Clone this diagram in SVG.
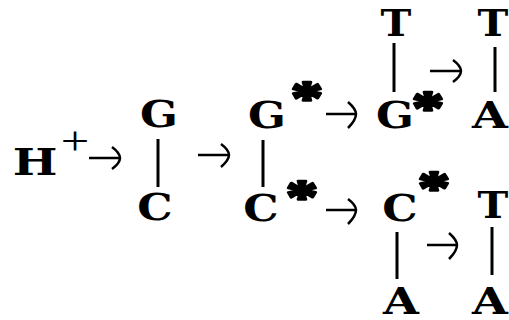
<svg xmlns="http://www.w3.org/2000/svg" width="509" height="320" viewBox="0 0 509 320">
<style>
.b{font-family:"DejaVu Serif","Liberation Serif",serif;font-weight:bold;font-size:37px;fill:#000;text-anchor:middle}
.s{font-family:"Liberation Serif",serif;font-weight:bold;font-size:48px;fill:#000;stroke:#000;stroke-width:2.5;stroke-linejoin:round;text-anchor:middle}
.p{font-family:"Liberation Serif",serif;font-size:44px;fill:#000;text-anchor:middle}
.bond{stroke:#000;stroke-width:3;fill:none}
.arr{stroke:#000;stroke-width:2.5;fill:none}
</style>
<rect width="509" height="320" fill="#fff"/>
<g id="connectors">
<line class="bond" x1="158" y1="139" x2="158" y2="187"/>
<line class="bond" x1="263" y1="140" x2="263" y2="187"/>
<line class="bond" x1="394" y1="43" x2="394" y2="92"/>
<line class="bond" x1="495" y1="47" x2="495" y2="92"/>
<line class="bond" x1="397" y1="232" x2="397" y2="279"/>
<line class="bond" x1="492" y1="227" x2="492" y2="275"/>
<path class="arr" d="M89 158H119M112 147Q120 153 120 158Q120 163 112 169"/>
<path class="arr" d="M198 155H228M221 144Q229 150 229 155Q229 160 221 167"/>
<path class="arr" d="M326 114H355M348 102Q356 109 356 114Q356 120 348 128"/>
<path class="arr" d="M430 71H460M453 60Q461 66 461 71Q461 76 453 82"/>
<path class="arr" d="M326 210H355M348 199Q356 205 356 210Q356 216 348 224"/>
<path class="arr" d="M427 245H456M449 233Q457 240 457 245Q457 251 449 259"/>
</g>
<g id="H"><text class="b" transform="translate(35 175) scale(1.28 1)">H</text><text class="p" transform="translate(75 154) scale(1.15 0.9)">+</text></g>
<g id="G1"><text class="b" transform="translate(159 127) scale(1.2 1)">G</text></g>
<g id="C1"><text class="b" transform="translate(155 220) scale(1.2 1)">C</text></g>
<g id="G2"><text class="b" transform="translate(267 128) scale(1.2 1)">G</text><text class="s" transform="translate(307 114) scale(1.35 1)">*</text></g>
<g id="C2"><text class="b" transform="translate(261 221) scale(1.2 1)">C</text><text class="s" transform="translate(302 213) scale(1.35 1)">*</text></g>
<g id="G3"><text class="b" transform="translate(395 128) scale(1.2 1)">G</text><text class="s" transform="translate(428 124) scale(1.35 1)">*</text></g>
<g id="T1"><text class="b" transform="translate(396 36) scale(1.12 1)">T</text></g>
<g id="T2"><text class="b" transform="translate(493 36) scale(1.12 1)">T</text></g>
<g id="A1"><text class="b" transform="translate(490 128) scale(1.25 1)">A</text></g>
<g id="C3"><text class="b" transform="translate(400 221) scale(1.2 1)">C</text><text class="s" transform="translate(434 204) scale(1.35 1)">*</text></g>
<g id="T3"><text class="b" transform="translate(493 218) scale(1.12 1)">T</text></g>
<g id="A2"><text class="b" transform="translate(401 314) scale(1.25 1)">A</text></g>
<g id="A3"><text class="b" transform="translate(490 314) scale(1.25 1)">A</text></g>
</svg>
